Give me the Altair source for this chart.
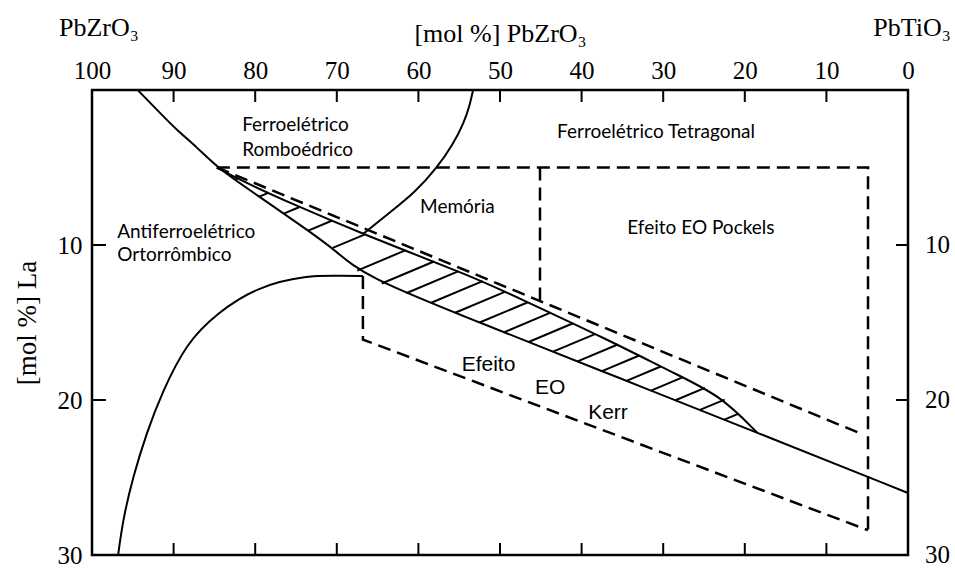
import altair as alt
import numpy as np
import pandas as pd

# Plot area in pixels and the data domain it covers
W, H = 816, 465
X_MAX, Y_MAX = 100, 30

# x = mol % PbZrO3 (reversed axis), y = mol % La (0 at the top)
main_x = [94.4, 92.0, 89.6, 87.1, 84.7, 80.0, 74.5, 70.2, 66.8, 52.5, 35.3, 18.5, 0.0]
main_y = [0.0, 1.3, 2.6, 3.7, 5.0, 6.7, 8.7, 10.3, 12.0, 15.0, 18.6, 22.1, 26.0]

# upper edge of the hatched (slim loop) band
band_x = [84.7, 81.9, 75.7, 66.8, 53.1, 47.8, 36.8, 28.6, 23.0, 18.5]
band_y = [5.0, 5.8, 7.3, 9.3, 12.1, 13.4, 16.1, 18.3, 19.7, 22.1]

# rhombohedral / tetragonal boundary (memory region)
mem_x = [66.8, 63.5, 60.4, 57.7, 55.8, 54.4, 53.7, 53.3]
mem_y = [9.3, 7.9, 6.6, 5.0, 3.55, 2.1, 0.97, 0.0]

# antiferroelectric orthorhombic boundary
afe_x = [96.8, 96.2, 95.0, 93.3, 91.4, 88.4, 84.7, 79.8, 73.7, 69.2, 66.8]
afe_y = [30.0, 27.7, 25.0, 22.1, 19.5, 16.3, 14.4, 12.7, 11.95, 12.0, 12.0]

# dashed outlines of the electro-optic regions
pockels_x = [84.7, 4.9, 4.9]
pockels_y = [5.0, 5.0, 28.4]
pockels_side_x = [45.1, 45.1]
pockels_side_y = [5.0, 13.55]
diag_x = [84.7, 6.1]
diag_y = [5.0, 22.1]
kerr_x = [66.8, 66.8, 4.9]
kerr_y = [12.0, 16.1, 28.4]

# region names
names = ["Ferroelétrico", "Romboédrico", "Ferroelétrico Tetragonal", "Memória",
         "Antiferroelétrico", "Ortorrômbico", "Efeito EO Pockels"]
names_x = [81.6, 81.6, 43.0, 59.8, 96.9, 96.9, 34.4]
names_y = [2.26, 3.87, 2.71, 7.55, 9.16, 10.65, 8.9]
kerr_words = ["Efeito", "EO", "Kerr"]
kerr_words_x = [54.7, 45.7, 39.2]
kerr_words_y = [17.74, 19.23, 20.84]

# end-member names above the two ends of the composition axis
end_names = ["PbZrO₃", "PbTiO₃"]
end_names_x = [99.15, -0.5]

top_ticks = list(range(0, 101, 10))
inner_x_ticks = list(range(10, 100, 10))
side_ticks = [10, 20, 30]


def curve_frame(name, xs, ys):
    return pd.DataFrame({"curve": name, "i": range(len(xs)), "x": xs, "y": ys})


solid_df = pd.concat([
    curve_frame("main", main_x, main_y),
    curve_frame("band", band_x, band_y),
    curve_frame("mem", mem_x, mem_y),
    curve_frame("afe", afe_x, afe_y),
])
dashed_df = pd.concat([
    curve_frame("pockels", pockels_x, pockels_y),
    curve_frame("pockels_side", pockels_side_x, pockels_side_y),
    curve_frame("diag", diag_x, diag_y),
    curve_frame("kerr", kerr_x, kerr_y),
])

# hatching of the band: short strokes rising to the right, from the
# main boundary up to the band's upper edge
HATCH_SLOPE = 0.42
hatch_starts = np.arange(82.5, 20.0, -3.0)
mpx = (X_MAX - np.array(main_x)) * W / X_MAX
mpy = np.array(main_y) * H / Y_MAX
upx = (X_MAX - np.array(band_x)) * W / X_MAX
upy = np.array(band_y) * H / Y_MAX
rows = []
for x0 in hatch_starts:
    px0 = (X_MAX - x0) * W / X_MAX
    py0 = np.interp(px0, mpx, mpy)
    t = np.arange(0, 120, 0.25)
    hx = px0 + t
    hy = py0 - HATCH_SLOPE * t
    edge = np.interp(hx, upx, upy)
    hit = np.nonzero((hy <= edge) | (hx >= upx[-1]))[0]
    k = hit[0] if len(hit) else len(t) - 1
    rows.append({"x": x0, "y": py0 * Y_MAX / H,
                 "x2": X_MAX - hx[k] * X_MAX / W, "y2": hy[k] * Y_MAX / H})
hatch_df = pd.DataFrame(rows)

serif = "Liberation Serif"
x_scale = alt.Scale(domain=[0, X_MAX], reverse=True, nice=False, zero=False)
y_scale = alt.Scale(domain=[0, Y_MAX], reverse=True, nice=False, zero=False)
axis_style = dict(grid=False, ticks=False, tickSize=0, domain=False,
                  labelFont=serif, labelFontSize=25, labelColor="black",
                  labelFlush=False, labelOverlap=False,
                  titleFont=serif, titleFontWeight="normal", titleColor="black")
x_enc = alt.X("x:Q", scale=x_scale,
              axis=alt.Axis(orient="top", values=top_ticks, title="[mol %] PbZrO₃",
                            labelPadding=7, titleFontSize=26, titlePadding=12,
                            **axis_style))
y_enc = alt.Y("y:Q", scale=y_scale,
              axis=alt.Axis(orient="left", values=side_ticks, title="[mol %] La",
                            labelPadding=10, titleFontSize=27, titlePadding=16,
                            **axis_style))

solid = alt.Chart(solid_df).mark_line(
    color="black", strokeWidth=2, interpolate="basis"
).encode(x=x_enc, y=y_enc, detail="curve:N", order="i:Q")

dashed = alt.Chart(dashed_df).mark_line(
    color="black", strokeWidth=2.5, strokeDash=[13, 7]
).encode(x=x_enc, y=y_enc, detail="curve:N", order="i:Q")

hatch = alt.Chart(hatch_df).mark_rule(color="black", strokeWidth=2).encode(
    x=x_enc, y=y_enc, x2="x2:Q", y2="y2:Q")

# inward tick marks on all four sides
xt_df = pd.DataFrame({"x": inner_x_ticks})
yt_df = pd.DataFrame({"y": [10, 20]})
tick_top = alt.Chart(xt_df).mark_rule(color="black", strokeWidth=2).encode(
    x=x_enc, y=alt.value(0), y2=alt.value(12))
tick_bottom = alt.Chart(xt_df).mark_rule(color="black", strokeWidth=2).encode(
    x=x_enc, y=alt.value(H), y2=alt.value(H - 12))
tick_left = alt.Chart(yt_df).mark_rule(color="black", strokeWidth=2).encode(
    y=y_enc, x=alt.value(0), x2=alt.value(14))
tick_right = alt.Chart(yt_df).mark_rule(color="black", strokeWidth=2).encode(
    y=y_enc, x=alt.value(W - 12), x2=alt.value(W))

right_labels = alt.Chart(pd.DataFrame({"y": side_ticks, "t": [str(v) for v in side_ticks]})).mark_text(
    font=serif, fontSize=25, color="black", align="left", baseline="middle"
).encode(y=y_enc, x=alt.value(W + 17), text="t:N")

end_labels = alt.Chart(pd.DataFrame({"x": end_names_x, "t": end_names})).mark_text(
    font=serif, fontSize=26, color="black", align="center", baseline="middle"
).encode(x=x_enc, y=alt.value(-62), text="t:N")

region_text = alt.Chart(pd.DataFrame({"x": names_x, "y": names_y, "t": names})).mark_text(
    font="Lato", fontSize=19, color="black", align="left", baseline="middle"
).encode(x=x_enc, y=y_enc, text="t:N")

kerr_text = alt.Chart(pd.DataFrame({"x": kerr_words_x, "y": kerr_words_y, "t": kerr_words})).mark_text(
    font="Liberation Sans", fontSize=21, color="black", align="left", baseline="middle"
).encode(x=x_enc, y=y_enc, text="t:N")

chart = alt.layer(
    solid, dashed, hatch, tick_top, tick_bottom, tick_left, tick_right,
    right_labels, end_labels, region_text, kerr_text
).properties(
    width=W, height=H,
    padding={"left": 92, "top": 90, "right": 47, "bottom": 13},
    autosize=alt.AutoSizeParams(type="none"),
    background="white",
).configure_view(stroke="black", strokeWidth=2.5)

chart.save("out.html", embed_options={"renderer": "svg", "actions": False})
